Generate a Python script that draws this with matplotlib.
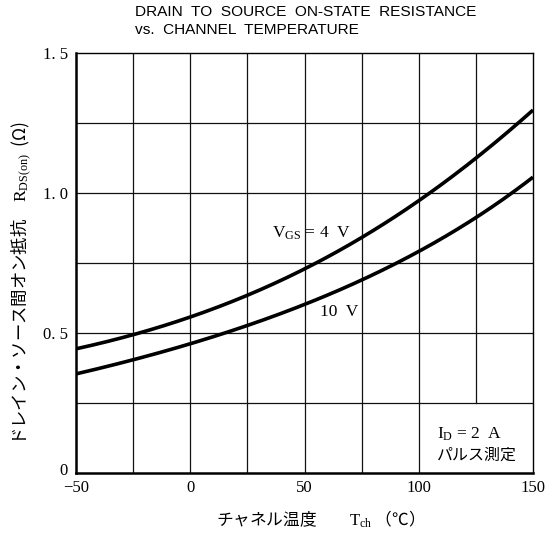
import matplotlib
matplotlib.use("Agg")
import matplotlib.pyplot as plt
import matplotlib.transforms as mtrans
import numpy as np

# Data
temps = [-50, -25, 0, 25, 50, 75, 100, 125, 150]
r_vgs4 = [0.443, 0.496, 0.554, 0.636, 0.730, 0.840, 0.972, 1.125, 1.296]
r_vgs10 = [0.354, 0.405, 0.460, 0.525, 0.607, 0.690, 0.786, 0.914, 1.057]
x_ticks = [-50, 0, 50, 100, 150]
y_ticks = [0, 0.5, 1.0, 1.5]
y_ticklabels = ["0", "0. 5", "1. 0", "1. 5"]

plt.rcParams['mathtext.fontset'] = 'custom'
plt.rcParams['mathtext.rm'] = 'Liberation Serif'
plt.rcParams['mathtext.it'] = 'Liberation Serif:italic'

serif = ['Liberation Serif', 'Noto Sans CJK JP']
cjk = ['Noto Sans CJK JP', 'Liberation Serif']

fig = plt.figure(figsize=(5.5, 5.33), dpi=100)
ax = fig.add_axes([76/550, 1-473/533, 457/550, 420/533])

ax.set_xlim(-50, 150)
ax.set_ylim(0, 1.5)

# grid
for xv in [-25, 0, 25, 50, 75, 100]:
    ax.plot([xv, xv], [0, 1.5], color='#111111', lw=0.9, zorder=1)
ax.plot([125, 125], [0.25, 1.5], color='#111111', lw=0.9, zorder=1)
for yv in [0.25, 0.5, 0.75, 1.0, 1.25]:
    ax.plot([-50, 150], [yv, yv], color='#111111', lw=0.9, zorder=1)

# curves (smooth through read points)
def smooth(xs, ys):
    xs = np.asarray(xs, float); ys = np.asarray(ys, float)
    c = np.polyfit(xs, np.log(ys), 3)
    xx = np.linspace(xs[0], xs[-1], 200)
    return xx, np.exp(np.polyval(c, xx))

for ys in (r_vgs4, r_vgs10):
    xx, yy = smooth(temps, ys)
    ax.plot(xx, yy, color='black', lw=2.6, solid_capstyle='butt', zorder=3)

for s in ['left', 'bottom']:
    ax.spines[s].set_linewidth(1.8)
for s in ['top', 'right']:
    ax.spines[s].set_linewidth(1.0)

ax.set_xticks(x_ticks)
ax.set_xticklabels([("\u2212" + str(-t)) if t < 0 else str(t) for t in x_ticks],
                   family=serif, fontsize=12)
ax.set_yticks(y_ticks)
ax.set_yticklabels(y_ticklabels, family=serif, fontsize=12)
ax.tick_params(axis='y', length=0, pad=6)
ax.tick_params(axis='x', length=0, pad=5)
lbl0 = ax.get_yticklabels()[0]
lbl0.set_transform(lbl0.get_transform() + mtrans.ScaledTranslation(0, 3/72, fig.dpi_scale_trans))

ax.set_xlabel("チャネル温度　　$\\mathrm{T_{ch}}$ （℃）", family=cjk, fontsize=12)
ax.xaxis.set_label_coords((316-76)/457, -(519-473)/420)
ax.xaxis.label.set_va('center')
ax.set_ylabel("ドレイン・ソース間オン抵抗　$\\mathrm{R_{DS(on)}}$  (Ω)", family=cjk,
              fontsize=12.5)
ax.yaxis.set_label_coords((22-76)/457, (473-283)/420)
ax.yaxis.label.set_va('center')
ax.yaxis.label.set_ha('center')

ax.text(35.8, 0.857, "$\\mathrm{V_{GS}}$ = 4  V", family=serif, fontsize=12.5,
        va='center', ha='left', zorder=4)
ax.text(56.8, 0.575, "10  V", family=serif, fontsize=12.5, va='center', ha='left', zorder=4)
ax.text(108, 0.139, "$\\mathrm{I_D}$ = 2  A", family=serif, fontsize=12.5, va='center', ha='left')
ax.text(108, 0.064, "パルス測定", family=cjk, fontsize=11.5, va='center', ha='left')

fig.text(135/550, 1-12/533, "DRAIN  TO  SOURCE  ON-STATE  RESISTANCE",
         family='Liberation Sans', fontsize=11.1, va='center', ha='left')
fig.text(135/550, 1-30/533, "vs.  CHANNEL  TEMPERATURE",
         family='Liberation Sans', fontsize=11.1, va='center', ha='left')

fig.savefig("out.png", dpi=100)
